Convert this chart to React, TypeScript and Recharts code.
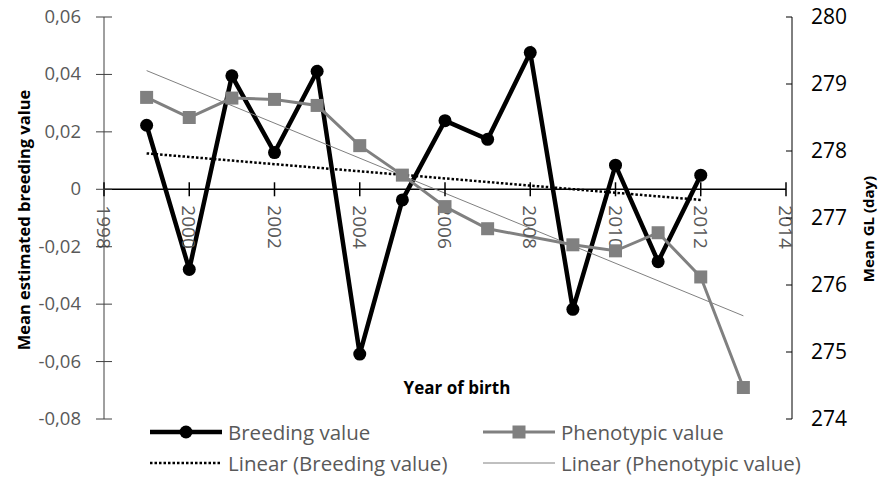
import { LineChart, Line, XAxis, YAxis, ReferenceLine, ReferenceDot } from "recharts";

const years = [1999, 2000, 2001, 2002, 2003, 2004, 2005, 2006, 2007, 2008, 2009, 2010, 2011, 2012, 2013];
const breedingValue = [0.0223, -0.0279, 0.0395, 0.0128, 0.0411, -0.0574, -0.0037, 0.0239, 0.0174, 0.0476, -0.0418, 0.0084, -0.0252, 0.0049];
// 2008 has no visible marker in the source, the line just runs through
const phenotypicValue = [278.8, 278.5, 278.79, 278.77, 278.68, 278.08, 277.64, 277.17, 276.84, null, 276.6, 276.51, 276.78, 276.12, 274.47];

const breedingTrendYears = [1999, 2012];
const breedingTrendValues = [0.0125, -0.0037];
const phenoTrendYears = [1999, 2013];
const phenoTrendValues = [279.2, 275.54];

const xTicks = [1998, 2000, 2002, 2004, 2006, 2008, 2010, 2012, 2014];
const leftTicks = [-0.08, -0.06, -0.04, -0.02, 0, 0.02, 0.04, 0.06];
const rightTicks = [274, 275, 276, 277, 278, 279, 280];

const FONT = "'Open Sans', sans-serif";
const LABEL_GREY = "#595959";
const PHENO_GREY = "#808080";

const chartData = years.map((year, i) => ({
  year,
  breeding: breedingValue[i],
  pheno: phenotypicValue[i],
}));
const breedingTrend = breedingTrendYears.map((year, i) => ({ year, value: breedingTrendValues[i] }));
const phenoTrend = phenoTrendYears.map((year, i) => ({ year, value: phenoTrendValues[i] }));

const fmtLeft = (v: number) => (v === 0 ? "0" : v.toFixed(2).replace(".", ","));

const LeftTick = (props: any) => {
  const { x, y, payload } = props;
  const axisX = x + 23;
  return (
    <g>
      <line x1={axisX - 8} x2={axisX + 8} y1={y} y2={y} stroke="#404040" />
      <text x={x} y={y} dy={6} textAnchor="end" fill={LABEL_GREY} fontSize={18.5} fontFamily={FONT}>
        {fmtLeft(payload.value)}
      </text>
    </g>
  );
};

const RightTick = (props: any) => {
  const { x, y, payload } = props;
  const axisX = x - 19;
  return (
    <g>
      <line x1={axisX - 6} x2={axisX} y1={y} y2={y} stroke="#000" />
      <text x={x} y={y} dy={7} textAnchor="start" fill="#000" fontSize={21} fontFamily={FONT}>
        {payload.value}
      </text>
    </g>
  );
};

const SquareDot = (props: any) => {
  const { cx, cy, index } = props;
  if (cx == null || cy == null) return <g key={`sq-${index}`} />;
  return <rect key={`sq-${index}`} x={cx - 6.5} y={cy - 6.5} width={13} height={13} fill={PHENO_GREY} />;
};

const yearTick = (year: number) => (p: any) => {
  const { cx, cy } = p;
  const ty = cy + 16;
  return (
    <g>
      <line x1={cx} x2={cx} y1={cy - 7} y2={cy + 7} stroke="#000" strokeWidth={1.5} />
      <text
        x={cx}
        y={ty}
        transform={`rotate(90 ${cx} ${ty})`}
        textAnchor="start"
        dominantBaseline="central"
        fill={LABEL_GREY}
        fontSize={19}
        fontFamily={FONT}
      >
        {year}
      </text>
    </g>
  );
};

const LegendIcon = ({ kind }: { kind: string }) => (
  <svg width={72} height={16} style={{ display: "block" }}>
    {kind === "breeding" && (
      <>
        <line x1={0} x2={72} y1={8} y2={8} stroke="#000" strokeWidth={4.5} />
        <circle cx={36} cy={8} r={6.5} fill="#000" />
      </>
    )}
    {kind === "pheno" && (
      <>
        <line x1={0} x2={72} y1={8} y2={8} stroke={PHENO_GREY} strokeWidth={3} />
        <rect x={29.5} y={1.5} width={13} height={13} fill={PHENO_GREY} />
      </>
    )}
    {kind === "breedingTrend" && (
      <line x1={0} x2={72} y1={8} y2={8} stroke="#000" strokeWidth={2.5} strokeDasharray="2.5 2" />
    )}
    {kind === "phenoTrend" && <line x1={0} x2={72} y1={8} y2={8} stroke={PHENO_GREY} strokeWidth={1} />}
  </svg>
);

const legendItems = [
  { kind: "breeding", label: "Breeding value", left: 150, top: 432 },
  { kind: "pheno", label: "Phenotypic value", left: 483, top: 432 },
  { kind: "breedingTrend", label: "Linear (Breeding value)", left: 150, top: 463 },
  { kind: "phenoTrend", label: "Linear (Phenotypic value)", left: 483, top: 463 },
];

export default function App() {
  return (
    <div style={{ position: "fixed", left: 0, top: 0, width: 880, height: 484, background: "#fff" }}>
      <LineChart width={880} height={484} data={chartData} margin={{ top: 17, right: 38, bottom: 65, left: 0 }}>
        <XAxis dataKey="year" type="number" domain={[1998, 2014]} ticks={xTicks} padding={{ left: 0, right: 6 }} hide />
        <YAxis
          yAxisId="left"
          type="number"
          domain={[-0.08, 0.06]}
          ticks={leftTicks}
          width={104}
          tickSize={8}
          tickMargin={15}
          tickLine={false}
          tick={<LeftTick />}
          axisLine={{ stroke: "#404040" }}
          interval={0}
        />
        <YAxis
          yAxisId="right"
          orientation="right"
          type="number"
          domain={[274, 280]}
          ticks={rightTicks}
          width={50}
          tickSize={6}
          tickMargin={13}
          tickLine={false}
          tick={<RightTick />}
          axisLine={{ stroke: "#000" }}
          interval={0}
        />
        <ReferenceLine
          yAxisId="left"
          segment={[
            { x: 1998, y: 0 },
            { x: 2014, y: 0 },
          ]}
          stroke="#000"
          strokeWidth={1.5}
        />
        {xTicks.map((t) => (
          <ReferenceDot key={t} yAxisId="left" x={t} y={0} r={0} ifOverflow="visible" shape={yearTick(t)} />
        ))}
        <Line
          yAxisId="left"
          dataKey="breeding"
          stroke="#000"
          strokeWidth={4.5}
          dot={{ r: 6.5, fill: "#000", stroke: "#000", strokeWidth: 0 }}
          activeDot={false}
          isAnimationActive={false}
        />
        <Line
          yAxisId="right"
          dataKey="pheno"
          stroke={PHENO_GREY}
          strokeWidth={3}
          connectNulls
          dot={<SquareDot />}
          activeDot={false}
          isAnimationActive={false}
        />
        <Line
          yAxisId="left"
          data={breedingTrend}
          dataKey="value"
          stroke="#000"
          strokeWidth={2.5}
          strokeDasharray="2.5 2"
          dot={false}
          activeDot={false}
          isAnimationActive={false}
        />
        <Line
          yAxisId="right"
          data={phenoTrend}
          dataKey="value"
          stroke={PHENO_GREY}
          strokeWidth={1}
          dot={false}
          activeDot={false}
          isAnimationActive={false}
        />
      </LineChart>

      <svg width={880} height={484} style={{ position: "absolute", left: 0, top: 0, pointerEvents: "none" }}>
        <text
          x={23}
          y={220}
          transform="rotate(-90 23 220)"
          textAnchor="middle"
          dominantBaseline="central"
          fontSize={16.5}
          fontWeight={700}
          fontFamily={FONT}
          fill="#000"
        >
          Mean estimated breeding value
        </text>
        <text
          x={868}
          y={229}
          transform="rotate(-90 868 229)"
          textAnchor="middle"
          dominantBaseline="central"
          fontSize={15}
          fontWeight={700}
          fontFamily={FONT}
          fill="#000"
        >
          Mean GL (day)
        </text>
        <text x={457} y={387} textAnchor="middle" dominantBaseline="central" fontSize={17} fontWeight={700} fontFamily={FONT} fill="#000">
          Year of birth
        </text>
      </svg>

      {legendItems.map((it) => (
        <div
          key={it.label}
          style={{
            position: "absolute",
            left: it.left,
            top: it.top - 14,
            height: 28,
            display: "flex",
            alignItems: "center",
            gap: 6,
            fontFamily: FONT,
            fontSize: 20.5,
            color: LABEL_GREY,
            whiteSpace: "nowrap",
          }}
        >
          <LegendIcon kind={it.kind} />
          <span>{it.label}</span>
        </div>
      ))}
    </div>
  );
}
